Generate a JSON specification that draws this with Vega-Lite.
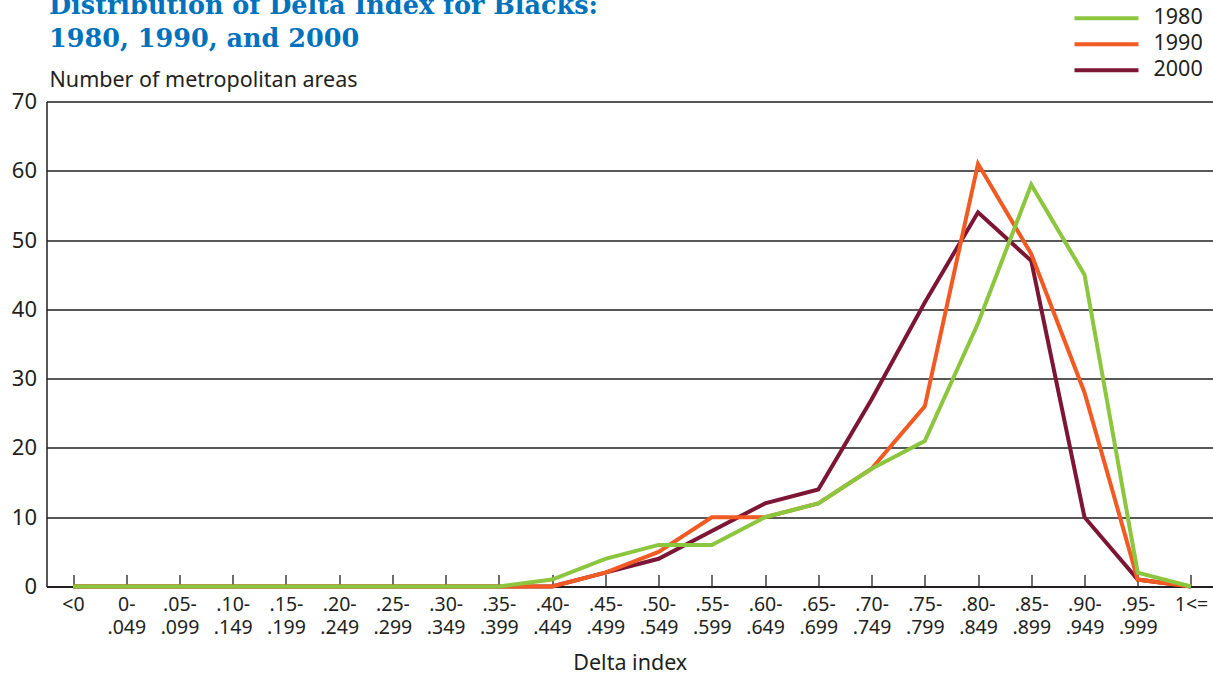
{
  "$schema": "https://vega.github.io/schema/vega-lite/v6.json",
  "autosize": {"type": "none"},
  "padding": {"left": 46.5, "top": 101.5, "right": 0, "bottom": 90.5},
  "width": 1166.5,
  "height": 485,
  "background": "white",
  "config": {
    "view": {"stroke": null},
    "font": "Noto Sans",
    "axis": {"labelFont": "Noto Sans", "titleFont": "Noto Sans", "labelColor": "#231f20", "titleColor": "#231f20", "titleFontWeight": "normal"},
    "legend": {"labelFont": "Noto Sans"}
  },
  "title": {
    "text": ["Distribution of Delta Index for Blacks:", "1980, 1990, and 2000"],
    "anchor": "start",
    "frame": "group",
    "font": "DejaVu Serif",
    "fontWeight": "bold",
    "fontSize": 25.5,
    "lineHeight": 33,
    "color": "#0072bc",
    "dx": 2.5,
    "dy": 57,
    "offset": 10
  },
  "data": {
    "values": [
      {"d": "<0", "1980": 0, "1990": 0, "2000": 0},
      {"d": "0-.049", "1980": 0, "1990": 0, "2000": 0},
      {"d": ".05-.099", "1980": 0, "1990": 0, "2000": 0},
      {"d": ".10-.149", "1980": 0, "1990": 0, "2000": 0},
      {"d": ".15-.199", "1980": 0, "1990": 0, "2000": 0},
      {"d": ".20-.249", "1980": 0, "1990": 0, "2000": 0},
      {"d": ".25-.299", "1980": 0, "1990": 0, "2000": 0},
      {"d": ".30-.349", "1980": 0, "1990": 0, "2000": 0},
      {"d": ".35-.399", "1980": 0, "1990": 0, "2000": 0},
      {"d": ".40-.449", "1980": 1, "1990": 0, "2000": 0},
      {"d": ".45-.499", "1980": 4, "1990": 2, "2000": 2},
      {"d": ".50-.549", "1980": 6, "1990": 5, "2000": 4},
      {"d": ".55-.599", "1980": 6, "1990": 10, "2000": 8},
      {"d": ".60-.649", "1980": 10, "1990": 10, "2000": 12},
      {"d": ".65-.699", "1980": 12, "1990": 12, "2000": 14},
      {"d": ".70-.749", "1980": 17, "1990": 17, "2000": 27},
      {"d": ".75-.799", "1980": 21, "1990": 26, "2000": 41},
      {"d": ".80-.849", "1980": 38, "1990": 61, "2000": 54},
      {"d": ".85-.899", "1980": 58, "1990": 48, "2000": 47},
      {"d": ".90-.949", "1980": 45, "1990": 28, "2000": 10},
      {"d": ".95-.999", "1980": 2, "1990": 1, "2000": 1},
      {"d": "1<=", "1980": 0, "1990": 0, "2000": 0}
    ]
  },
  "transform": [{"fold": ["1980", "1990", "2000"], "as": ["year", "n"]}],
  "encoding": {
    "x": {
      "field": "d",
      "type": "ordinal",
      "scale": {
        "type": "point",
        "padding": 0.456,
        "align": 0.546,
        "domain": ["<0", "0-.049", ".05-.099", ".10-.149", ".15-.199", ".20-.249", ".25-.299", ".30-.349", ".35-.399", ".40-.449", ".45-.499", ".50-.549", ".55-.599", ".60-.649", ".65-.699", ".70-.749", ".75-.799", ".80-.849", ".85-.899", ".90-.949", ".95-.999", "1<="]
      },
      "axis": {
        "title": "Delta index",
        "titleFontSize": 21.5,
        "titleBaseline": "alphabetic",
        "titleY": 83,
        "labelAngle": 0,
        "labelFontSize": 19.5,
        "labelLineHeight": 23,
        "labelBaseline": "top",
        "labelPadding": 21,
        "labelExpr": "indexof(datum.value,'-') > 0 ? [slice(datum.value,0,indexof(datum.value,'-')+1), slice(datum.value,indexof(datum.value,'-')+1)] : datum.value",
        "ticks": true,
        "tickSize": -12,
        "tickColor": "#231f20",
        "tickWidth": 1.3,
        "domainColor": "#231f20",
        "domainWidth": 2,
        "grid": false
      }
    },
    "y": {
      "field": "n",
      "type": "quantitative",
      "scale": {"domain": [0, 70], "nice": false},
      "axis": {
        "title": "Number of metropolitan areas",
        "titleAngle": 0,
        "titleAlign": "left",
        "titleBaseline": "alphabetic",
        "titleX": 2.5,
        "titleY": -15,
        "titleFontSize": 21.5,
        "values": [0, 10, 20, 30, 40, 50, 60, 70],
        "labelFontSize": 22,
        "labelPadding": 10,
        "ticks": false,
        "grid": true,
        "gridColor": "#231f20",
        "gridWidth": 1.3,
        "gridOpacity": 1,
        "domainColor": "#231f20",
        "domainWidth": 1.5
      }
    },
    "color": {
      "field": "year",
      "type": "nominal",
      "scale": {"domain": ["1980", "1990", "2000"], "range": ["#8cc63f", "#f15a22", "#7d1634"]},
      "legend": {
        "title": null,
        "orient": "none",
        "legendX": 1026,
        "legendY": -96,
        "symbolType": "stroke",
        "symbolSize": 4096,
        "symbolStrokeWidth": 4,
        "labelFontSize": 21.5,
        "labelColor": "#231f20",
        "labelOffset": 13,
        "clipHeight": 25.5,
        "rowPadding": 0,
        "padding": 0
      }
    }
  },
  "layer": [
    {"transform": [{"filter": "datum.year == '2000'"}], "mark": {"type": "line", "strokeWidth": 4}},
    {"transform": [{"filter": "datum.year == '1990'"}], "mark": {"type": "line", "strokeWidth": 4}},
    {"transform": [{"filter": "datum.year == '1980'"}], "mark": {"type": "line", "strokeWidth": 4}}
  ]
}
